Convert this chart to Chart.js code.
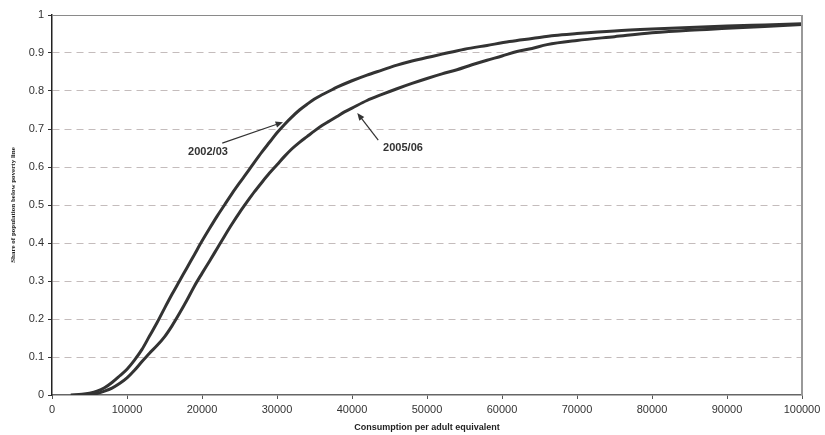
<!DOCTYPE html>
<html>
<head>
<meta charset="utf-8">
<script src="https://cdn.jsdelivr.net/npm/chart.js@4"></script>
<style>
  html, body { margin: 0; padding: 0; background: #fff; }
  #wrap { width: 825px; height: 435px; position: relative; }
</style>
</head>
<body>
<div id="wrap"><canvas id="cdfChart"></canvas></div>
<script>
// ─── DATA: cumulative share of population by consumption ─────────────────
const consumption2002 = [2500, 4000, 5000, 6000, 7000, 8000, 9000, 10000, 11000, 12000,
  13000, 14000, 15000, 16000, 17000, 18000, 19000, 20000, 21000, 22000, 23000, 24000,
  25000, 26000, 27000, 28000, 29000, 30000, 31000, 32000, 33000, 34000, 35000, 36000,
  37000, 38000, 40000, 42000, 44000, 46000, 48000, 50000, 52000, 55000, 58000, 61000,
  64000, 67000, 70000, 75000, 80000, 85000, 90000, 95000, 100000];
const share2002 = [0, 0.002, 0.005, 0.01, 0.019, 0.033, 0.05, 0.068, 0.092, 0.12,
  0.155, 0.19, 0.228, 0.265, 0.3, 0.335, 0.37, 0.405, 0.438, 0.47, 0.5, 0.53,
  0.558, 0.585, 0.613, 0.64, 0.665, 0.69, 0.712, 0.732, 0.75, 0.765, 0.779, 0.79,
  0.8, 0.81, 0.827, 0.842, 0.855, 0.868, 0.879, 0.888, 0.897, 0.91, 0.92, 0.93,
  0.938, 0.946, 0.951, 0.958, 0.963, 0.967, 0.971, 0.974, 0.977];

const consumption2005 = [3500, 5000, 6000, 7000, 8000, 9000, 10000, 11000, 12000, 13000,
  14000, 15000, 16000, 17000, 18000, 19000, 20000, 21000, 22000, 23000, 24000, 25000,
  26000, 27000, 28000, 29000, 30000, 31000, 32000, 33000, 34000, 35000, 36000, 37000,
  38000, 39000, 40000, 42000, 44000, 46000, 48000, 50000, 52000, 54000, 56000, 58000,
  60000, 62000, 64000, 66000, 70000, 75000, 80000, 85000, 90000, 95000, 100000];
const share2005 = [0, 0.002, 0.004, 0.01, 0.018, 0.03, 0.045, 0.065, 0.088, 0.11,
  0.13, 0.153, 0.182, 0.215, 0.25, 0.287, 0.32, 0.352, 0.385, 0.418, 0.45, 0.48,
  0.508, 0.535, 0.56, 0.584, 0.606, 0.628, 0.648, 0.665, 0.68, 0.695, 0.709, 0.721,
  0.733, 0.745, 0.755, 0.775, 0.791, 0.806, 0.82, 0.833, 0.845, 0.856, 0.869, 0.881,
  0.892, 0.904, 0.912, 0.922, 0.933, 0.943, 0.953, 0.96, 0.965, 0.97, 0.975];

// labels with arrows: text position, arrow tail, arrow head (data units)
const seriesLabels = ["2002/03", "2005/06"];
const labelAt   = [[20800, 0.64], [46800, 0.65]];
const arrowFrom = [[22700, 0.663], [43500, 0.671]];
const arrowTo   = [[30800, 0.718], [40700, 0.742]];

const LINE_COLOR = "#333333";
const TEXT_COLOR = "#333333";

function toPoints(xs, ys) {
  return xs.map((x, i) => ({ x, y: ys[i] }));
}

// ─── PLUGINS ─────────────────────────────────────────────────────────────
const frameBorder = {
  id: "frameBorder",
  afterDatasetsDraw(chart) {
    const { ctx, chartArea: a } = chart;
    ctx.save();
    ctx.strokeStyle = "#8a8a8a";
    ctx.lineWidth = 1;
    ctx.beginPath();
    ctx.moveTo(a.left, a.top + 0.5);
    ctx.lineTo(a.right, a.top + 0.5);
    ctx.stroke();
    ctx.lineWidth = 2;
    ctx.strokeStyle = "#999";
    ctx.beginPath();
    ctx.moveTo(a.right, a.top);
    ctx.lineTo(a.right, a.bottom);
    ctx.stroke();
    ctx.restore();
  }
};

const arrowLabels = {
  id: "arrowLabels",
  afterDatasetsDraw(chart) {
    const { ctx, scales: { x, y } } = chart;
    ctx.save();
    ctx.font = "bold 11px 'Liberation Sans', Arial, sans-serif";
    ctx.fillStyle = TEXT_COLOR;
    ctx.strokeStyle = TEXT_COLOR;
    ctx.textAlign = "center";
    ctx.textBaseline = "middle";
    seriesLabels.forEach((txt, i) => {
      ctx.fillText(txt, x.getPixelForValue(labelAt[i][0]), y.getPixelForValue(labelAt[i][1]));
      const x0 = x.getPixelForValue(arrowFrom[i][0]), y0 = y.getPixelForValue(arrowFrom[i][1]);
      const x1 = x.getPixelForValue(arrowTo[i][0]),   y1 = y.getPixelForValue(arrowTo[i][1]);
      const ang = Math.atan2(y1 - y0, x1 - x0);
      ctx.lineWidth = 1.2;
      ctx.beginPath();
      ctx.moveTo(x0, y0);
      ctx.lineTo(x1 - 5 * Math.cos(ang), y1 - 5 * Math.sin(ang));
      ctx.stroke();
      ctx.beginPath();
      ctx.moveTo(x1, y1);
      ctx.lineTo(x1 - 8 * Math.cos(ang - 0.4), y1 - 8 * Math.sin(ang - 0.4));
      ctx.lineTo(x1 - 8 * Math.cos(ang + 0.4), y1 - 8 * Math.sin(ang + 0.4));
      ctx.closePath();
      ctx.fill();
    });
    ctx.restore();
  }
};

// ─── CHART ───────────────────────────────────────────────────────────────
const tickFont = { family: "'Liberation Sans', Arial, sans-serif", size: 11 };

new Chart(document.getElementById("cdfChart"), {
  type: "scatter",
  data: {
    datasets: [
      {
        label: seriesLabels[0],
        data: toPoints(consumption2002, share2002),
        showLine: true,
        borderColor: LINE_COLOR,
        borderWidth: 3,
        pointRadius: 0,
        cubicInterpolationMode: "monotone"
      },
      {
        label: seriesLabels[1],
        data: toPoints(consumption2005, share2005),
        showLine: true,
        borderColor: LINE_COLOR,
        borderWidth: 3,
        pointRadius: 0,
        cubicInterpolationMode: "monotone"
      }
    ]
  },
  options: {
    responsive: true,
    maintainAspectRatio: false,
    animation: false,
    layout: { padding: { top: 15, right: 23, left: 0, bottom: 0 } },
    plugins: {
      legend: { display: false },
      tooltip: { enabled: false }
    },
    scales: {
      x: {
        type: "linear",
        min: 0,
        max: 100000,
        afterFit: s => { s.height = 40; },
        ticks: {
          stepSize: 10000,
          color: TEXT_COLOR,
          font: tickFont,
          padding: 4,
          maxRotation: 0,
          callback: v => String(v)
        },
        grid: {
          drawOnChartArea: false,
          drawTicks: true,
          tickLength: 4,
          tickColor: "#555"
        },
        border: { color: "#666", width: 1.5 },
        title: {
          display: true,
          text: "Consumption per adult equivalent",
          color: "#222",
          font: { family: "'Liberation Sans', Arial, sans-serif", size: 9, weight: "bold" },
          padding: { top: 2, bottom: 2 }
        }
      },
      y: {
        min: 0,
        max: 1,
        afterFit: s => { s.width = 52; },
        ticks: {
          stepSize: 0.1,
          color: TEXT_COLOR,
          font: tickFont,
          padding: 4,
          callback: v => String(Number(v.toFixed(1)))
        },
        grid: {
          color: c => (c.tick && (c.tick.value <= 0 || c.tick.value >= 1)) ? "rgba(0,0,0,0)" : "#c4bcbc",
          lineWidth: 1,
          drawTicks: true,
          tickLength: 4,
          tickColor: "#333",
          tickBorderDash: []
        },
        border: { color: "#222", width: 1.5, dash: [7, 5] },
        title: {
          display: true,
          text: "Share of population below poverty line",
          color: "#222",
          font: { family: "'Liberation Serif', 'Times New Roman', serif", size: 7, weight: "bold" },
          padding: { top: 9, bottom: 2 }
        }
      }
    }
  },
  plugins: [frameBorder, arrowLabels]
});
</script>
</body>
</html>
